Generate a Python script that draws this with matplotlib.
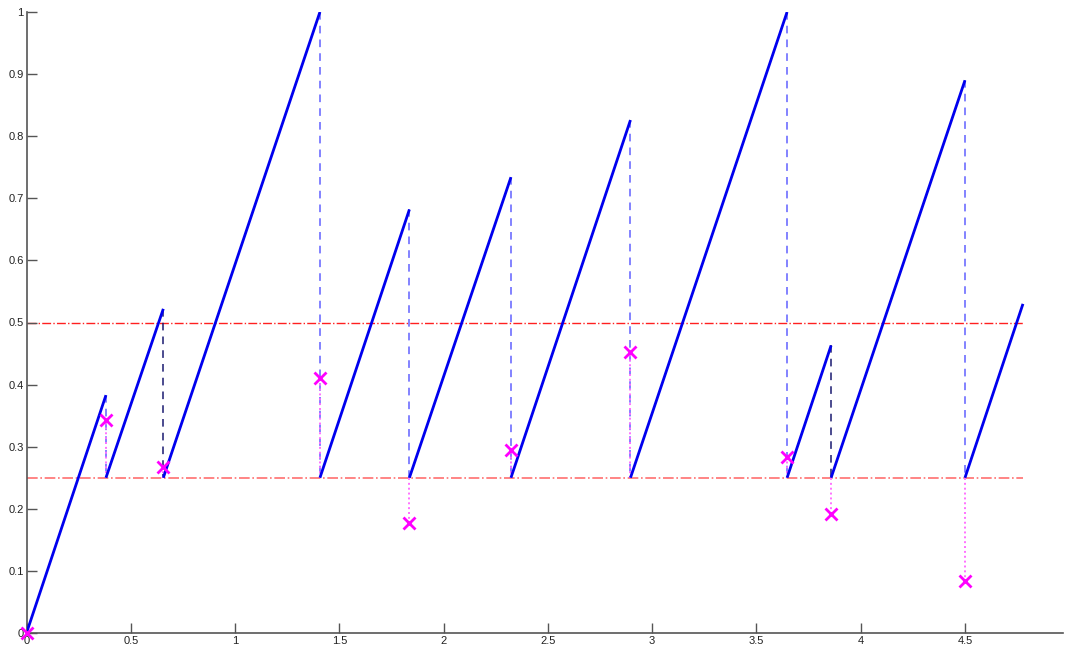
import matplotlib
matplotlib.use("Agg")
import matplotlib.pyplot as plt

# Reset times (where the sawtooth drops back to the lower threshold)
reset_t = [0.381, 0.656, 1.407, 1.836, 2.323, 2.896, 3.647, 3.858, 4.5]
end_t = 4.778
# Peak value reached at the end of each ramp segment
peaks = [0.383, 0.522, 1.0, 0.682, 0.734, 0.826, 1.0, 0.463, 0.890, 0.530]
# Value at the start of each ramp segment
starts = [0.0, 0.25, 0.25, 0.25, 0.25, 0.25, 0.25, 0.25, 0.25, 0.25]
# Sampled (cross) points
marker_t = [0.0, 0.381, 0.656, 1.407, 1.836, 2.323, 2.896, 3.647, 3.858, 4.5]
marker_y = [0.0, 0.3435, 0.268, 0.411, 0.177, 0.294, 0.453, 0.283, 0.191, 0.083]
# Thresholds
low_thr = 0.25
high_thr = 0.5
# Resets whose drop line is drawn dark
dark_resets = [0.656, 3.858]

xticks = [0, 0.5, 1, 1.5, 2, 2.5, 3, 3.5, 4, 4.5]
xticklabels = ["0", "0.5", "1", "1.5", "2", "2.5", "3", "3.5", "4", "4.5"]
yticks = [0, 0.1, 0.2, 0.3, 0.4, 0.5, 0.6, 0.7, 0.8, 0.9, 1]
yticklabels = ["0", "0.1", "0.2", "0.3", "0.4", "0.5", "0.6", "0.7", "0.8", "0.9", "1"]

plt.rcParams['font.family'] = ['Liberation Sans', 'DejaVu Sans']

fig = plt.figure(figsize=(10.66, 6.48), dpi=100)
ax = fig.add_axes([26.5 / 1066, 1 - 633 / 648, (1063 - 26.5) / 1066, (633 - 12) / 648])

# threshold lines
ax.plot([0, end_t], [low_thr, low_thr], color='#ff7070', lw=1.2, ls='-.', zorder=1)
ax.plot([0, end_t], [high_thr, high_thr], color='#ff2020', lw=1.0, ls='-.', zorder=1)

seg_start = [0.0] + reset_t
seg_end = reset_t + [end_t]

# vertical drop lines (dashed) from peak to lower threshold
for i, t in enumerate(reset_t):
    col = '#1a1a70' if t in dark_resets else '#6060ff'
    ax.plot([t, t], [peaks[i], low_thr], color=col, lw=1.1, ls=(0, (5, 4)), zorder=2)

# dotted lines from lower threshold to markers
for t, y in zip(marker_t[1:], marker_y[1:]):
    ax.plot([t, t], [low_thr, y], color='#ff70ff', lw=1.4, ls=(0, (1, 1.5)), zorder=2)

# ramps
for s0, s1, v0, v1 in zip(seg_start, seg_end, starts, peaks):
    ax.plot([s0, s1], [v0, v1], color='#0000ee', lw=2.0, solid_capstyle='butt', zorder=3)

# markers
ax.plot(marker_t, marker_y, ls='none', marker='x', color='#ff00ff', ms=9, mew=2, zorder=4, clip_on=False)

ax.set_xlim(0, 4.97)
ax.set_ylim(0, 1)
ax.set_xticks(xticks)
ax.set_xticklabels(xticklabels)
ax.set_yticks(yticks)
ax.set_yticklabels(yticklabels)

for side in ['top', 'right']:
    ax.spines[side].set_visible(False)
for side in ['left', 'bottom']:
    ax.spines[side].set_color('#555555')
    ax.spines[side].set_linewidth(1.2)

ax.tick_params(direction='in', length=7, width=1.0, color='#555555', labelsize=8, pad=2,
               labelcolor='#222222')

fig.savefig('out.png', dpi=100)
